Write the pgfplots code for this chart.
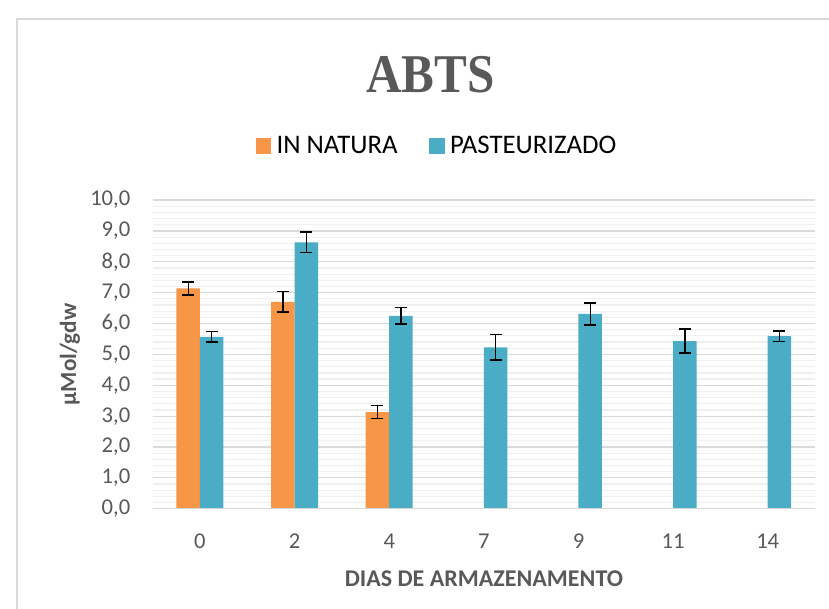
\documentclass[border=0pt]{standalone}
\usepackage{fontspec}
\setmainfont{Carlito}
\newfontfamily\titlefont[FakeStretch=0.9]{Liberation Serif}
\usepackage{pgfplots}
\pgfplotsset{compat=1.18}

\definecolor{natura}{HTML}{F79646}
\definecolor{pasteur}{HTML}{4BACC6}
\definecolor{txtgray}{HTML}{595959}
\definecolor{gridmaj}{HTML}{D9D9D9}
\definecolor{gridmin}{HTML}{EFEFEF}

\begin{document}
\begin{tikzpicture}
% page: 829 x 609 px, 1px = 0.5pt
\useasboundingbox (0,0) rectangle (414.5pt,304.5pt);
\draw[gridmaj, line width=0.6pt] (8.5pt,-5pt) -- (8.5pt,295pt) -- (420pt,295pt);
\node[font=\titlefont\bfseries\fontsize{27.3}{30}\selectfont, text=txtgray] at (215.3pt,267pt) {ABTS};

\begin{axis}[
    at={(76.33pt,50.15pt)}, anchor=south west,
    scale only axis,
    width=331.2pt, height=154.3pt,
    ybar=0pt, bar width=11.75pt,
    xmin=-0.5, xmax=6.5,
    ymin=0, ymax=10,
    xtick={0,...,6},
    xticklabels={0,2,4,7,9,11,14},
    ytick={0,1,...,10},
    minor y tick num=4,
    major tick length=0pt, minor tick length=0pt,
    ymajorgrids, yminorgrids,
    major grid style={gridmaj, line width=0.6pt},
    minor grid style={gridmin, line width=0.6pt},
    axis line style={draw=none},
    /pgf/number format/.cd, fixed, fixed zerofill, precision=1, use comma, assume math mode=true,
    /pgfplots/.cd,
    tick label style={text=txtgray, font=\fontsize{11.3}{13}\selectfont},
    yticklabel style={anchor=east, inner sep=0pt, xshift=-11pt},
    xticklabel style={anchor=base, inner sep=0pt, yshift=-19.7pt},
    xlabel={\textbf{DIAS DE ARMAZENAMENTO}},
    ylabel={\textbf{µMol/gdw}},
    every axis x label/.style={at={(axis description cs:0.5,0)}, anchor=center,
        yshift=-35.2pt, text=txtgray, font=\bfseries\fontsize{12}{14}\selectfont},
    every axis y label/.style={at={(axis description cs:-0.1248,0.5)}, rotate=90,
        anchor=center, text=txtgray, font=\bfseries\fontsize{11.6}{13}\selectfont},
    legend columns=2,
    legend style={at={(axis description cs:0.4278,1.1753)}, anchor=center, draw=none,
        font=\fontsize{13.4}{15}\selectfont, nodes={inner sep=0pt},
        /tikz/every odd column/.append style={column sep=2.6pt},
        /tikz/every even column/.append style={column sep=15.8pt}},
    legend image code/.code={\fill[#1] (0pt,-3.9pt) rectangle (7.8pt,3.9pt);},
    error bars/y dir=both, error bars/y explicit,
    error bars/error bar style={black, line width=0.7pt},
    error bars/error mark options={black, rotate=90, line width=0.7pt, mark size=3pt},
]
\addplot[fill=natura, draw=none] coordinates {
    (0,7.14) +- (0,0.21)
    (1,6.70) +- (0,0.33)
    (2,3.13) +- (0,0.21)
};
\addplot[fill=pasteur, draw=none] coordinates {
    (0,5.57) +- (0,0.17)
    (1,8.63) +- (0,0.33)
    (2,6.25) +- (0,0.26)
    (3,5.23) +- (0,0.41)
    (4,6.31) +- (0,0.36)
    (5,5.43) +- (0,0.39)
    (6,5.59) +- (0,0.17)
};
\legend{IN NATURA, PASTEURIZADO}
\draw[gridmaj, line width=0.8pt] (rel axis cs:0,0) -- (rel axis cs:1,0);
\end{axis}
\end{tikzpicture}
\end{document}
